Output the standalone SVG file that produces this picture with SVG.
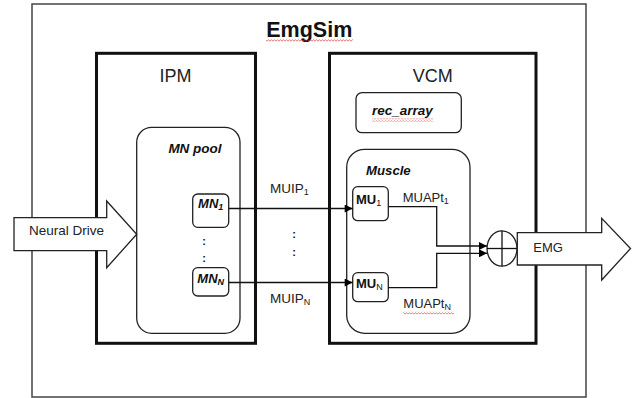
<svg xmlns="http://www.w3.org/2000/svg" width="636" height="398" viewBox="0 0 636 398">
  <defs>
    <style>
      .t { font-family: "Liberation Sans", Arial, sans-serif; fill: #222; }
      .bi { font-weight: bold; font-style: italic; fill: #111; }
      .b { font-weight: bold; fill: #111; }
      .frame { fill: none; stroke: #111; stroke-width: 3; }
      .outer { fill: #fff; stroke: #444; stroke-width: 1.5; }
      .rbox { fill: #fff; stroke: #222; stroke-width: 1.3; }
      .conn { fill: none; stroke: #111; stroke-width: 1.3; }
      .big { fill: #fff; stroke: #222; stroke-width: 1.3; stroke-linejoin: miter; }
      .wave { fill: url(#wavy); }
      .sub { font-size: 9px; }
    </style>
    <marker id="ah" viewBox="0 0 10 10" refX="10" refY="5" markerWidth="9" markerHeight="8" markerUnits="userSpaceOnUse" orient="auto">
      <path d="M0,0 L10,5 L0,10 z" fill="#000"/>
    </marker>
    <pattern id="wavy" x="0" y="0" width="3" height="3" patternUnits="userSpaceOnUse">
      <path d="M0,2.2 L1.5,0.8 L3,2.2" fill="none" stroke="#d33" stroke-width="0.7"/>
    </pattern>
  </defs>

  <g id="emgsim">
    <rect class="outer" x="32" y="4" width="554" height="393"/>
    <text class="t b" x="309.3" y="37" font-size="21.5" text-anchor="middle">EmgSim</text>
    <rect class="wave" x="266" y="39" width="87" height="3"/>
  </g>

  <g id="ipm">
    <rect class="frame" x="96.5" y="53.3" width="159" height="290"/>
    <text class="t" x="175.5" y="82" font-size="18" text-anchor="middle" fill="#111">IPM</text>
  </g>

  <g id="vcm">
    <rect class="frame" x="329.5" y="53.3" width="206.5" height="290"/>
    <text class="t" x="432.7" y="82" font-size="18" text-anchor="middle" fill="#111">VCM</text>
  </g>

  <g id="rec_array">
    <rect class="rbox" x="356" y="92.7" width="105.3" height="40" rx="6"/>
    <text class="t bi" x="372" y="115" font-size="13.5">rec_array</text>
    <rect class="wave" x="372" y="118.5" width="61" height="3"/>
  </g>

  <g id="mn_pool">
    <rect class="rbox" x="136.7" y="127.3" width="103.3" height="206" rx="15"/>
    <text class="t bi" x="195" y="153" font-size="13.5" text-anchor="middle">MN pool</text>
    <text class="t b" x="204" y="245" font-size="11" text-anchor="middle">:</text>
    <text class="t b" x="204" y="262" font-size="11" text-anchor="middle">:</text>
  </g>

  <g id="mn1">
    <rect class="rbox" x="192.7" y="194" width="36" height="33.3" rx="5"/>
    <text class="t bi" x="210.7" y="208" font-size="13" text-anchor="middle">MN<tspan class="sub" dy="2">1</tspan></text>
  </g>

  <g id="mnN">
    <rect class="rbox" x="192.7" y="267.7" width="36" height="28.3" rx="5"/>
    <text class="t bi" x="210.7" y="282.7" font-size="13" text-anchor="middle">MN<tspan class="sub" dy="2">N</tspan></text>
  </g>

  <g id="muscle">
    <rect class="rbox" x="346.7" y="149.3" width="123.3" height="184" rx="18"/>
    <text class="t bi" x="366" y="175" font-size="13.2">Muscle</text>
  </g>

  <g id="mu1">
    <rect class="rbox" x="352.7" y="186.7" width="35.6" height="34" rx="5"/>
    <text class="t b" x="356" y="204" font-size="13">MU<tspan class="sub" font-weight="normal" dy="1.5">1</tspan></text>
  </g>

  <g id="muN">
    <rect class="rbox" x="352.7" y="272.7" width="35.6" height="29" rx="5"/>
    <text class="t b" x="356" y="288.3" font-size="13">MU<tspan class="sub" font-weight="normal" dy="1.5">N</tspan></text>
  </g>

  <g id="connectors">
    <line class="conn" x1="228.7" y1="208.5" x2="352.7" y2="208.5" marker-end="url(#ah)"/>
    <line class="conn" x1="228.7" y1="282.5" x2="352.7" y2="282.5" marker-end="url(#ah)"/>
    <polyline class="conn" points="388.3,206.7 436.7,206.7 436.7,246 487,246" marker-end="url(#ah)"/>
    <polyline class="conn" points="388.3,287.7 436.7,287.7 436.7,253.3 487,253.3" marker-end="url(#ah)"/>
    <text class="t" x="270" y="193.3" font-size="13.5">MUIP<tspan class="sub" dy="2">1</tspan></text>
    <text class="t" x="270" y="302.7" font-size="13.5">MUIP<tspan class="sub" dy="2">N</tspan></text>
    <text class="t b" x="294" y="238" font-size="11" text-anchor="middle">:</text>
    <text class="t b" x="294" y="256" font-size="11" text-anchor="middle">:</text>
    <text class="t" x="402.7" y="201.7" font-size="13">MUAPt<tspan class="sub" dy="2">1</tspan></text>
    <text class="t" x="403.3" y="308.3" font-size="13">MUAPt<tspan class="sub" dy="2">N</tspan></text>
    <rect class="wave" x="403" y="311.5" width="51" height="3"/>
  </g>

  <g id="neural_drive">
    <polygon class="big" points="14,217.7 106.7,217.7 106.7,201 136.7,234.3 106.7,267.7 106.7,250.7 14,250.7"/>
    <text class="t" x="29" y="235" font-size="13.5">Neural Drive</text>
  </g>

  <g id="sum">
    <ellipse class="rbox" cx="502" cy="248.5" rx="15" ry="17.7"/>
    <line class="conn" x1="487" y1="248.5" x2="517" y2="248.5"/>
    <line class="conn" x1="502" y1="230.8" x2="502" y2="266.2"/>
  </g>

  <g id="emg">
    <polygon class="big" points="517.3,232.7 601.7,232.7 601.7,218.3 630.5,248.5 601.7,280 601.7,265 517.3,265"/>
    <text class="t" x="533.3" y="251.7" font-size="13">EMG</text>
  </g>
</svg>
